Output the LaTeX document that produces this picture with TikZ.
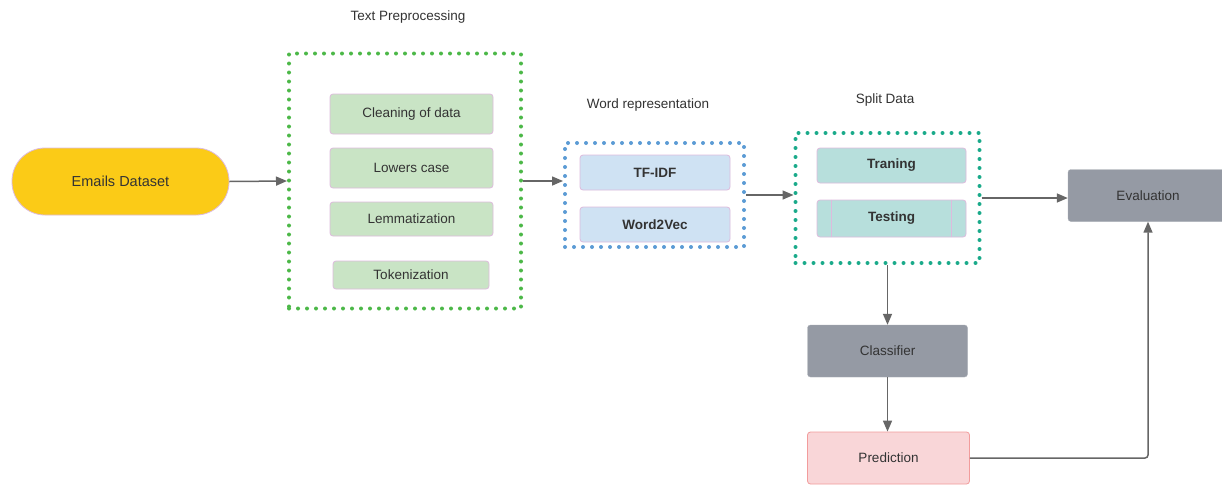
\documentclass[tikz,border=0pt]{standalone}
\usepackage{fontspec}
\setmainfont{Liberation Sans}
\usepackage{tikz}
\usetikzlibrary{arrows.meta}

\definecolor{dsyellow}{HTML}{FBCB17}
\definecolor{prepfill}{HTML}{C9E4C5}
\definecolor{prepdot}{HTML}{4CB848}
\definecolor{wordfill}{HTML}{CFE2F3}
\definecolor{worddot}{HTML}{5B9BD5}
\definecolor{splitfill}{HTML}{B7DFDC}
\definecolor{splitdot}{HTML}{1AAA8A}
\definecolor{modelgray}{HTML}{959AA4}
\definecolor{predfill}{HTML}{F9D6D8}
\definecolor{predline}{HTML}{F29C9C}
\definecolor{boxedge}{HTML}{DDBBDD}
\definecolor{txtgray}{HTML}{333333}
\definecolor{arrgray}{HTML}{666666}

\tikzset{
  txt/.style={text=txtgray, font=\fontsize{13.5}{16}\selectfont},
  stepbox/.style={txt, draw=boxedge, line width=0.8pt, rounded corners=3pt, inner sep=0pt},
  dotbox/.style={draw=#1, line width=4pt, dash pattern=on 0pt off 9pt, line cap=round, inner sep=0pt},
  arr/.style={draw=arrgray, line width=1.5pt, -{Triangle[length=11pt,width=9pt]}},
}

\begin{document}
\begin{tikzpicture}[x=1pt,y=-1pt]
\useasboundingbox[fill=white] (0,0) rectangle (1222,485);
%dataset
	\node[stepbox, fill=dsyellow, rounded corners=33pt, minimum width=217, minimum height=67, font=\fontsize{14.5}{17}\selectfont] (emails) at (120.5,181.5) {Emails Dataset};
%preprocessing
	\node[txt] (preplabel) at (408,17) {Text Preprocessing};
	\node[dotbox=prepdot, minimum width=232, minimum height=255] (prep) at (405,181) {};
	\node[stepbox, fill=prepfill, minimum width=163, minimum height=40] (clean) at (411.5,114) {Cleaning of data};
	\node[stepbox, fill=prepfill, minimum width=163, minimum height=40] (lower) at (411.5,168) {Lowers case};
	\node[stepbox, fill=prepfill, minimum width=163, minimum height=34] (lemma) at (411.5,219) {Lemmatization};
	\node[stepbox, fill=prepfill, minimum width=156, minimum height=28] (token) at (411,275) {Tokenization};
%word representation
	\node[txt] (wordlabel) at (648,105) {Word representation};
	\node[dotbox=worddot, minimum width=179, minimum height=104] (word) at (654.5,195) {};
	\node[stepbox, fill=wordfill, minimum width=150, minimum height=35, font=\fontsize{13.5}{16}\selectfont\bfseries] (tfidf) at (655,172.5) {TF-IDF};
	\node[stepbox, fill=wordfill, minimum width=150, minimum height=35, font=\fontsize{13.5}{16}\selectfont\bfseries] (w2v) at (655,224.5) {Word2Vec};
%split
	\node[txt] (splitlabel) at (885,100) {Split Data};
	\node[dotbox=splitdot, minimum width=184, minimum height=130] (split) at (887.5,198) {};
	\node[stepbox, fill=splitfill, minimum width=149, minimum height=35, font=\fontsize{13.5}{16}\selectfont\bfseries] (train) at (891.5,165.5) {Traning};
	\node[stepbox, fill=splitfill, minimum width=149, minimum height=37, font=\fontsize{13.5}{16}\selectfont\bfseries] (test) at (891.5,218.5) {Testing};
	\draw[boxedge, line width=0.8pt] ([xshift=15pt]test.north west) -- ([xshift=15pt]test.south west);
	\draw[boxedge, line width=0.8pt] ([xshift=-15pt]test.north east) -- ([xshift=-15pt]test.south east);
%model
	\node[txt, fill=modelgray, draw=modelgray!80, rounded corners=3pt, minimum width=160, minimum height=52] (classifier) at (887.5,351) {Classifier};
	\node[txt, fill=predfill, draw=predline, line width=0.8pt, rounded corners=3pt, minimum width=162, minimum height=52] (prediction) at (888.5,458) {Prediction};
	\node[txt, fill=modelgray, draw=modelgray!80, rounded corners=3pt, minimum width=160, minimum height=52] (eval) at (1148,195.5) {Evaluation};
%arrows
	\draw[arr] (emails.east) -- (prep.west);
	\draw[arr] (prep.east) -- (prep.east -| word.west);
	\draw[arr] (word.east) -- (word.east -| split.west);
	\draw[arr] (split.east) -- (split.east -| eval.west);
	\draw[arr] (split.south -| classifier.north) -- (classifier.north);
	\draw[arr] (classifier.south) -- (classifier.south |- prediction.north);
	\draw[arr, rounded corners=3pt] (prediction.east) -| (eval.south);
\end{tikzpicture}
\end{document}
